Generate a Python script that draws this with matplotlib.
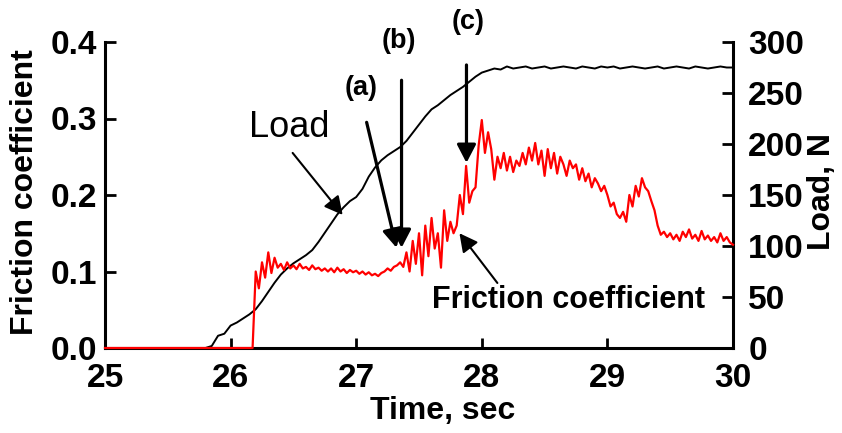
import numpy as np
import matplotlib
matplotlib.use('Agg')
import matplotlib.pyplot as plt

plt.rcParams['font.family'] = ['Liberation Sans', 'DejaVu Sans']

# friction coefficient, sampled every 0.025 s from 26.200 s to 30.000 s
friction_start = 26.2
friction_step = 0.025
friction_values = [
    0.100, 0.078, 0.112, 0.092, 0.125, 0.098, 0.118, 0.105,
    0.110, 0.102, 0.112, 0.104, 0.108, 0.103, 0.110, 0.104,
    0.106, 0.102, 0.108, 0.103, 0.105, 0.101, 0.104, 0.100,
    0.104, 0.099, 0.105, 0.100, 0.103, 0.098, 0.102, 0.099,
    0.101, 0.097, 0.100, 0.096, 0.099, 0.095, 0.097, 0.094,
    0.098, 0.100, 0.104, 0.101, 0.106, 0.108, 0.112, 0.106,
    0.125, 0.100, 0.140, 0.110, 0.150, 0.095, 0.160, 0.120,
    0.170, 0.130, 0.150, 0.105, 0.180, 0.140, 0.165, 0.150,
    0.160, 0.200, 0.175, 0.238, 0.190, 0.205, 0.210, 0.265,
    0.298, 0.255, 0.282, 0.260, 0.220, 0.250, 0.235, 0.255,
    0.232, 0.250, 0.230, 0.245, 0.238, 0.255, 0.240, 0.262,
    0.245, 0.268, 0.240, 0.258, 0.225, 0.260, 0.235, 0.255,
    0.228, 0.250, 0.240, 0.225, 0.245, 0.235, 0.240, 0.220,
    0.235, 0.218, 0.228, 0.210, 0.222, 0.215, 0.205, 0.212,
    0.200, 0.185, 0.190, 0.175, 0.170, 0.178, 0.165, 0.200,
    0.185, 0.212, 0.198, 0.222, 0.210, 0.205, 0.192, 0.180,
    0.160, 0.148, 0.152, 0.145, 0.150, 0.142, 0.148, 0.140,
    0.152, 0.145, 0.155, 0.143, 0.148, 0.140, 0.153, 0.142,
    0.147, 0.140, 0.145, 0.138, 0.150, 0.140, 0.145, 0.138,
    0.135,
]

# load in N, sampled every 0.05 s from 25.80 s to 30.00 s
load_start = 25.8
load_step = 0.05
load_values = [
    0, 2, 12, 14, 22, 25, 29, 33, 38, 46,
    55, 64, 72, 78, 83, 87, 91, 96, 104, 113,
    122, 131, 138, 144, 148, 156, 168, 177, 184, 189,
    193, 197, 203, 211, 219, 227, 234, 238, 243, 248,
    252, 256, 261, 266, 270, 272, 274, 273, 276, 274,
    275, 276, 274, 275, 276, 274, 275, 276, 275, 274,
    276, 275, 274, 276, 275, 276, 274, 275, 276, 275,
    274, 275, 276, 274, 275, 276, 275, 274, 276, 275,
    274, 275, 276, 275, 275,
]

t_fric = friction_start + friction_step * np.arange(len(friction_values))
t_fric = np.concatenate([[25.0, 26.175], t_fric])
fric = np.concatenate([[0.0, 0.0], friction_values])

t_load = load_start + load_step * np.arange(len(load_values))
t_load = np.concatenate([[25.0], t_load])
load = np.concatenate([[0.0], load_values])

fig = plt.figure(figsize=(8.42, 4.33), dpi=100)
ax = fig.add_axes([105 / 842, 1 - 348 / 433, 628 / 842, 306 / 433])
ax2 = ax.twinx()

ax2.plot(t_load, load, color='black', lw=1.4, clip_on=False, zorder=2)
ax.plot(t_fric, fric, color='#ff0000', lw=1.6, clip_on=False, zorder=3)

ax.set_zorder(ax2.get_zorder() + 1)
ax.patch.set_visible(False)

ax.set_xlim(25, 30)
ax.set_ylim(0, 0.4)
ax2.set_ylim(0, 300)
ax.set_xticks([25, 26, 27, 28, 29, 30])
ax.set_yticks([0.0, 0.1, 0.2, 0.3, 0.4])
ax.set_yticklabels(['0.0', '0.1', '0.2', '0.3', '0.4'])
ax2.set_yticks([0, 50, 100, 150, 200, 250, 300])

for a in (ax, ax2):
    a.spines['top'].set_visible(False)
    for s in a.spines.values():
        s.set_linewidth(2.2)
ax.spines['right'].set_visible(False)
ax2.spines['left'].set_visible(False)
ax2.spines['bottom'].set_visible(False)

ax.tick_params(axis='x', direction='in', length=7, width=2, pad=11, labelsize=24)
ax.tick_params(axis='y', direction='in', length=8, width=2, pad=6, labelsize=24)
ax2.tick_params(axis='y', direction='in', length=8, width=2, pad=11, labelsize=24)
for lab in ax.get_xticklabels() + ax.get_yticklabels() + ax2.get_yticklabels():
    lab.set_fontweight('bold')

fig.text(443 / 842, 1 - 411 / 433, 'Time, sec', ha='center', va='center',
         fontsize=23, fontweight='bold')
fig.text(25 / 842, 1 - 192 / 433, 'Friction coefficient', ha='center', va='center',
         rotation=90, fontsize=23, fontweight='bold')
fig.text(822 / 842, 1 - 192 / 433, 'Load, N', ha='center', va='center',
         rotation=90, fontsize=23, fontweight='bold')

head = '-|>,head_length=0.5,head_width=0.26'
thin = dict(arrowstyle=head, color='black', lw=1.5, mutation_scale=22,
            shrinkA=0, shrinkB=0)
thick = dict(arrowstyle=head, color='black', lw=2.3, mutation_scale=22,
             shrinkA=0, shrinkB=0)

ax.annotate('', xy=(26.892, 0.174), xytext=(26.494, 0.255), arrowprops=thin)
ax.annotate('', xy=(27.321, 0.131), xytext=(27.083, 0.295), arrowprops=thick)
ax.annotate('', xy=(27.361, 0.131), xytext=(27.361, 0.350), arrowprops=thick)
ax.annotate('', xy=(27.878, 0.242), xytext=(27.878, 0.370), arrowprops=thick)
ax.annotate('', xy=(27.822, 0.150), xytext=(28.124, 0.085), arrowprops=thin)

ax.text(26.463, 0.288, 'Load', ha='center', va='center', fontsize=26)
ax.text(28.69, 0.063, 'Friction coefficient', ha='center', va='center',
        fontsize=22, fontweight='bold')
ax.text(27.043, 0.340, '(a)', ha='center', va='center', fontsize=19.5, fontweight='bold')
ax.text(27.337, 0.401, '(b)', ha='center', va='center', fontsize=19.5, fontweight='bold',
        clip_on=False)
ax.text(27.893, 0.426, '(c)', ha='center', va='center', fontsize=19.5, fontweight='bold',
        clip_on=False)

fig.savefig('out.png', dpi=100)
